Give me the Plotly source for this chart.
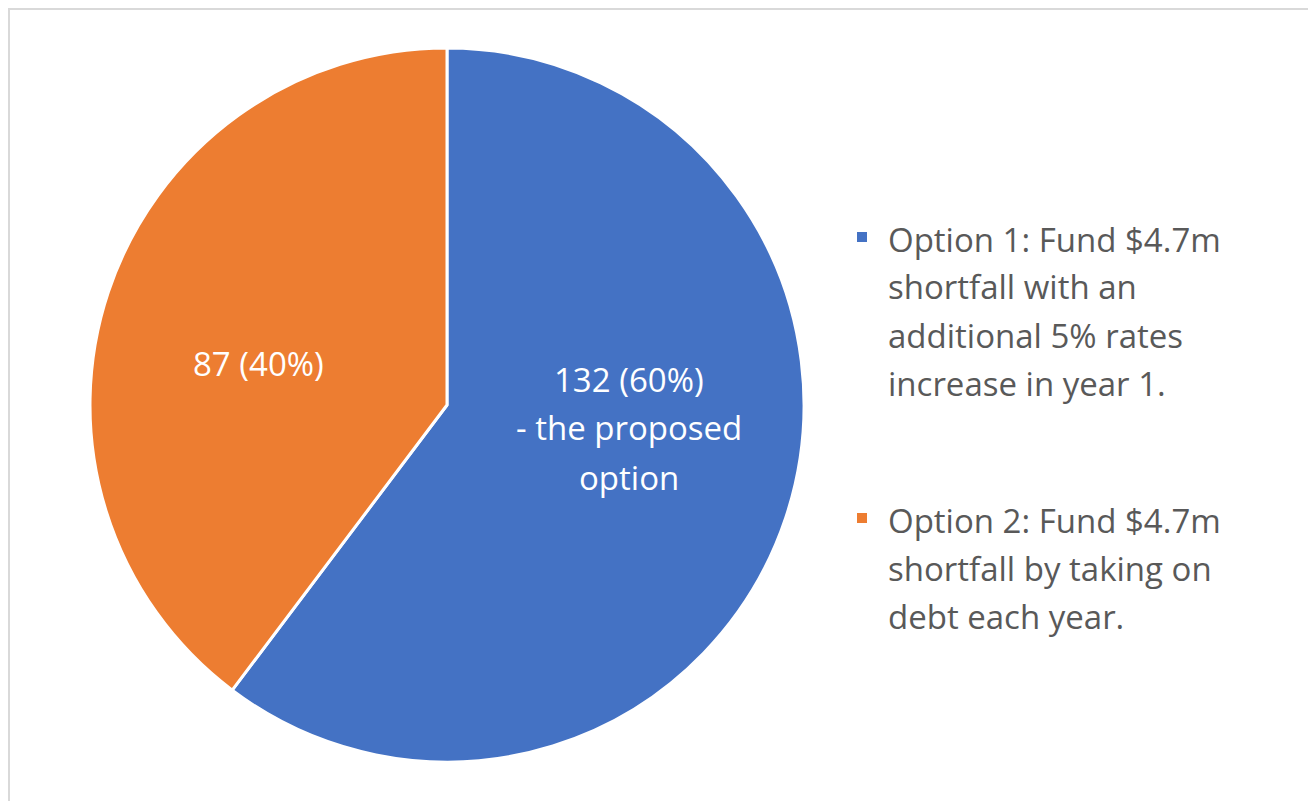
import plotly.graph_objects as go

# page size and the 8px body margin the page adds round the figure
PAGE_W, PAGE_H = 1316, 801
OFF = 8
FW, FH = PAGE_W - OFF, PAGE_H - OFF

labels = ["Option 1: Fund $4.7m shortfall with an additional 5% rates increase in year 1.",
          "Option 2: Fund $4.7m shortfall by taking on debt each year."]
values = [132, 87]
label_suffix = [["- the proposed", "option"], []]
colors = ["#4472C4", "#ED7D31"]
legend_lines = [
    ["Option 1: Fund $4.7m", "shortfall with an", "additional 5% rates", "increase in year 1."],
    ["Option 2: Fund $4.7m", "shortfall by taking on", "debt each year."],
]

FONT = "'Open Sans', sans-serif"
FS = 33


def px(x):
    return (x - OFF) / FW


def py(y):
    return 1 - (y - OFF) / FH


total = sum(values)
label_texts = [[f"{v} ({round(100 * v / total)}%)"] + s for v, s in zip(values, label_suffix)]

fig = go.Figure(go.Pie(
    labels=labels,
    values=values,
    textinfo="none",
    sort=False,
    direction="clockwise",
    rotation=0,
    marker=dict(colors=colors, line=dict(color="white", width=3)),
    hoverinfo="label+value+percent",
    domain=dict(x=[px(90), px(804)], y=[py(762), py(48)]),
    showlegend=False,
))

shapes = [
    dict(type="line", xref="paper", yref="paper", x0=0, x1=1, y0=1 - 1 / FH, y1=1 - 1 / FH,
         line=dict(color="#D9D9D9", width=2)),
    dict(type="line", xref="paper", yref="paper", x0=1 / FW, x1=1 / FW, y0=0, y1=1,
         line=dict(color="#D9D9D9", width=2)),
]
annotations = []

# slice labels
label_pos = [(629, 379), (258, 363)]
label_gap = 49
for (cx, cy), lines in zip(label_pos, label_texts):
    for j, t in enumerate(lines):
        annotations.append(dict(
            text=t, xref="paper", yref="paper", x=px(cx), y=py(cy + j * label_gap),
            xanchor="center", yanchor="middle", showarrow=False,
            font=dict(family=FONT, size=FS, color="white"),
        ))

# legend
first_line_y = [239, 520]
line_gap = 48
for i, lines in enumerate(legend_lines):
    y0 = first_line_y[i]
    shapes.append(dict(type="rect", xref="paper", yref="paper",
                       x0=px(857), x1=px(867), y0=py(y0 + 3), y1=py(y0 - 7),
                       fillcolor=colors[i], line=dict(width=0)))
    for j, t in enumerate(lines):
        annotations.append(dict(
            text=t, xref="paper", yref="paper", x=px(886), y=py(y0 + j * line_gap),
            xanchor="left", yanchor="middle", showarrow=False,
            font=dict(family=FONT, size=FS, color="#595959"),
        ))

fig.update_layout(
    width=FW, height=FH,
    margin=dict(l=0, r=0, t=0, b=0),
    paper_bgcolor="white",
    plot_bgcolor="white",
    shapes=shapes,
    annotations=annotations,
)

fig.write_html("out.html")
